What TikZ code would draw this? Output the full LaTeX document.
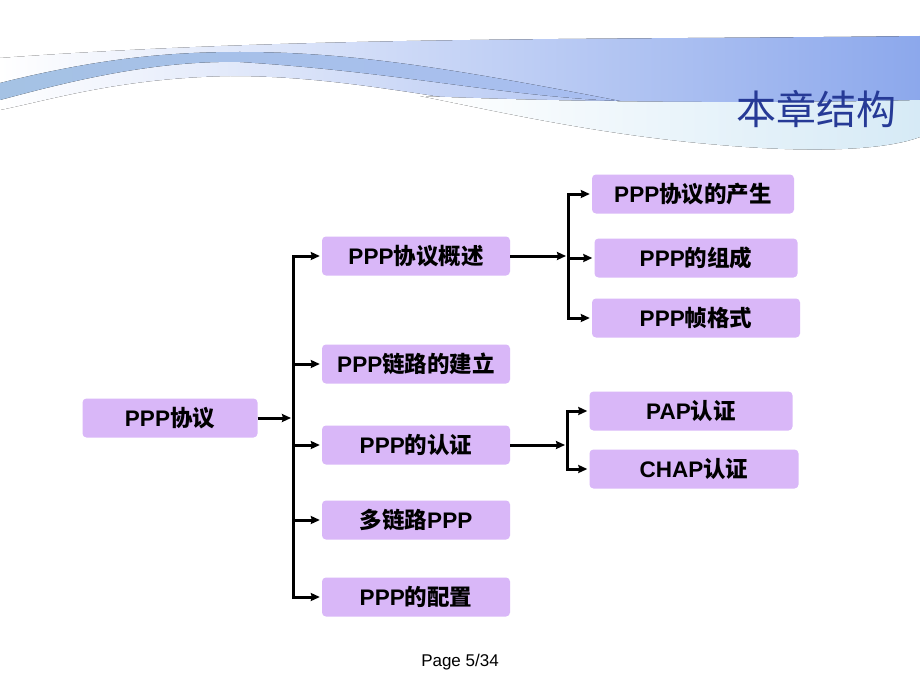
\documentclass[tikz,border=0pt]{standalone}
\usepackage{fontspec}
\setmainfont{Liberation Sans}
\newfontfamily\cjk{Noto Sans CJK SC}
\usetikzlibrary{arrows.meta}
\definecolor{boxc}{RGB}{217,183,248}
\definecolor{titlec}{RGB}{38,58,150}
\definecolor{swblue}{RGB}{140,168,236}
\definecolor{swsteel}{RGB}{165,194,228}
\definecolor{swcyan}{RGB}{214,234,246}
\definecolor{swpale}{RGB}{240,242,252}
\newcommand\zh[1]{{\cjk\bfseries #1}}
\tikzset{
  box/.style={fill=boxc, rounded corners=4pt, minimum height=39pt, inner sep=0pt,
              font=\fontsize{22.5}{22.5}\selectfont\bfseries},
  arr/.style={line width=3pt, -{Stealth[length=9pt,width=8pt,inset=1pt]}, shorten >=2pt},
  bus/.style={line width=3pt, line cap=rect}
}
\begin{document}
\begin{tikzpicture}[x=1pt,y=-1pt]
\useasboundingbox (0,0) rectangle (920,690);
\fill[white] (0,0) rectangle (920,690);
% background swoosh: upper gradient region
\fill[left color=white, middle color=swpale, right color=swblue]
  (0,58) .. controls (300,36) and (600,40) .. (920,36) -- (920,102)
  .. controls (760,104) and (600,104) .. (460,100)
  .. controls (360,84) and (300,76) .. (230,76)
  .. controls (120,78) and (50,100) .. (0,110) -- cycle;
% lower pale cyan swoosh
\fill[left color=white, right color=swcyan]
  (420,96) .. controls (560,102) and (760,104) .. (920,100) -- (920,137)
  .. controls (880,152) and (800,152) .. (720,145)
  .. controls (600,135) and (500,112) .. (420,96) -- cycle;
% steel band
\fill[left color=swsteel, right color=swblue!75]
  (0,83) .. controls (100,58) and (170,52) .. (240,52)
  .. controls (350,52) and (450,68) .. (620,101)
  .. controls (500,96) and (400,72) .. (240,62)
  .. controls (150,60) and (60,84) .. (0,100) -- cycle;
\node[text=titlec, font=\fontsize{40}{40}\selectfont\cjk] (title) at (816,109) {本章结构};
% nodes
\node[box, minimum width=175pt] (root) at (170,418) {PPP\zh{协议}};
\node[box, minimum width=188pt] (c1) at (416,256) {PPP\zh{协议概述}};
\node[box, minimum width=188pt] (c2) at (416,364) {PPP\zh{链路的建立}};
\node[box, minimum width=188pt] (c3) at (416,445) {PPP\zh{的认证}};
\node[box, minimum width=188pt] (c4) at (416,520) {\zh{多链路}PPP};
\node[box, minimum width=188pt] (c5) at (416,597) {PPP\zh{的配置}};
\node[box, minimum width=202pt] (g1) at (693,194) {PPP\zh{协议的产生}};
\node[box, minimum width=203pt] (g2) at (696,258) {PPP\zh{的组成}};
\node[box, minimum width=208pt] (g3) at (696,318) {PPP\zh{帧格式}};
\node[box, minimum width=203pt] (h1) at (691,411) {PAP\zh{认证}};
\node[box, minimum width=209pt] (h2) at (694,469) {CHAP\zh{认证}};
\node[font=\fontsize{17}{17}\selectfont] (page) at (460,662) {Page 5/34};
% connectors
\coordinate (bus1) at (293,0);
\coordinate (bus2) at (568,0);
\coordinate (bus3) at (567,0);
\draw[arr] (root.east) -- (root.east -| bus1);
\draw[bus] (c1.west -| bus1) -- (c5.west -| bus1);
\foreach \n in {c1,c2,c3,c4,c5} \draw[arr] (\n.west -| bus1) -- (\n.west);
\draw[arr] (c1.east) -- (c1.east -| bus2);
\draw[bus] (g1.west -| bus2) -- (g3.west -| bus2);
\foreach \n in {g1,g2,g3} \draw[arr] (\n.west -| bus2) -- (\n.west);
\draw[arr] (c3.east) -- (c3.east -| bus3);
\draw[bus] (h1.west -| bus3) -- (h2.west -| bus3);
\foreach \n in {h1,h2} \draw[arr] (\n.west -| bus3) -- (\n.west);
\end{tikzpicture}
\end{document}
